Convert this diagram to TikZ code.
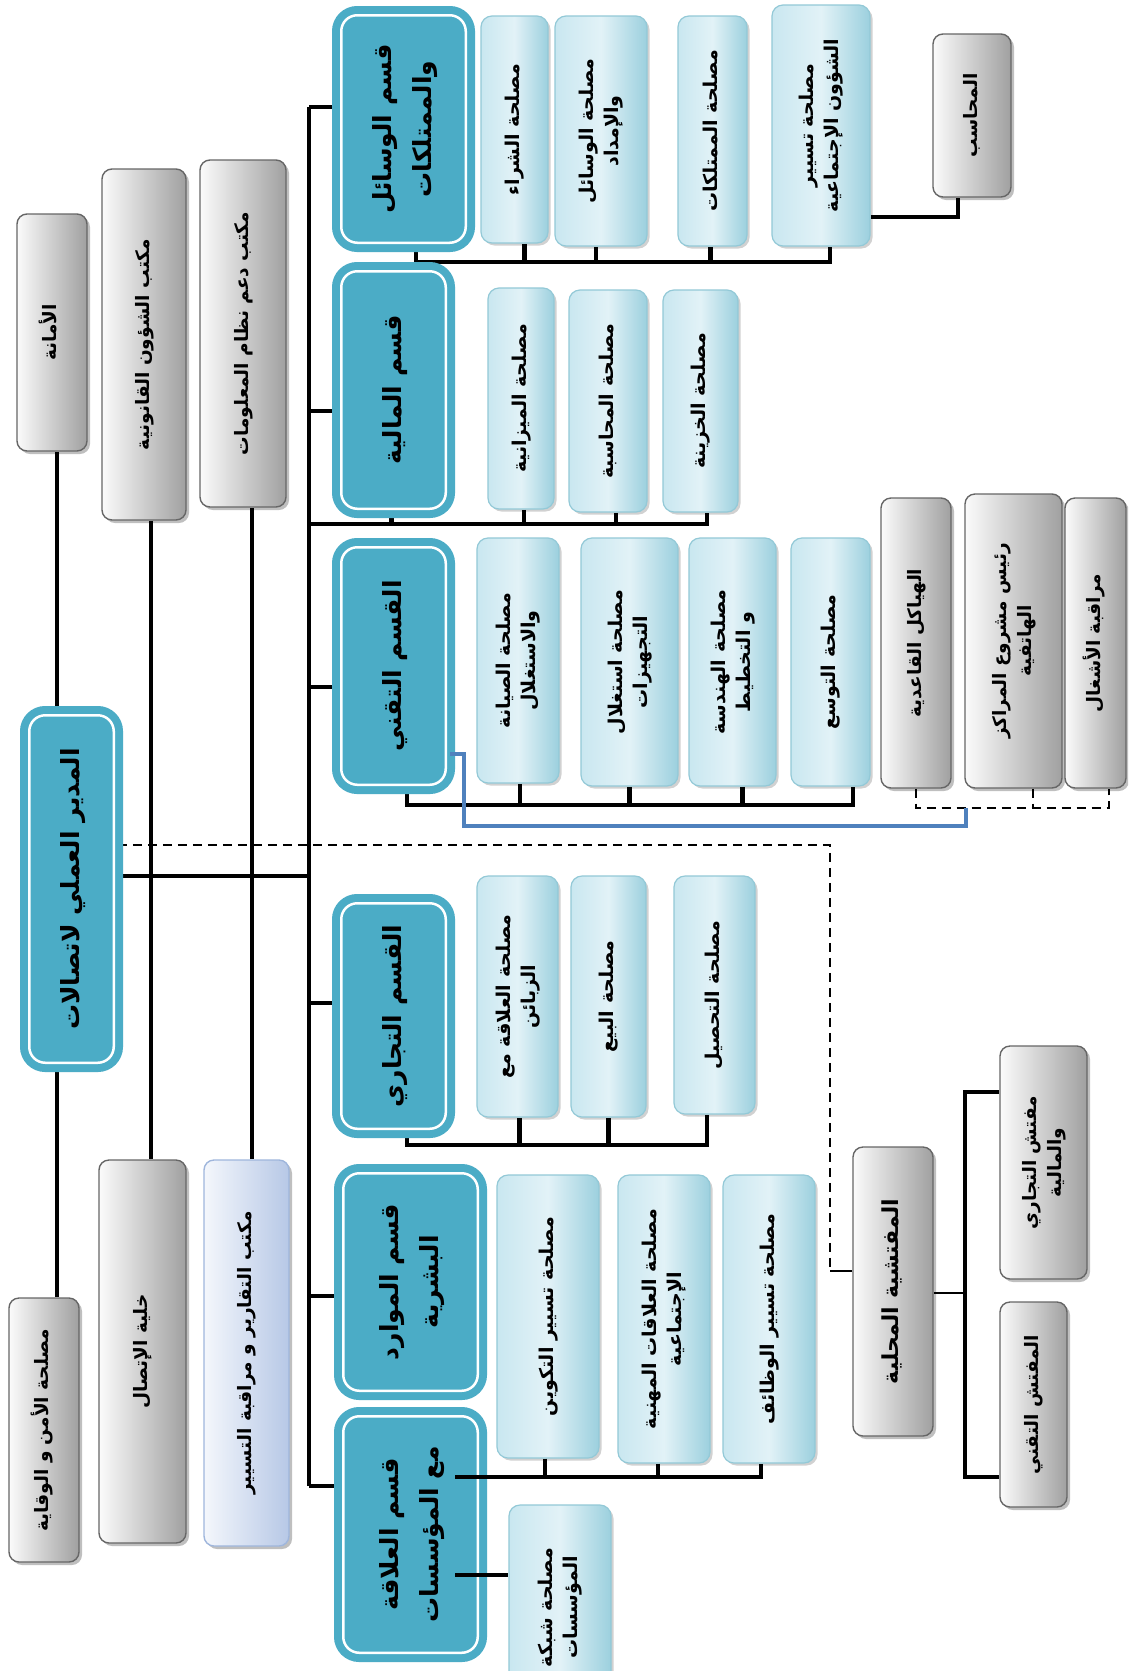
\documentclass[tikz,border=0pt]{standalone}
\usepackage{fontspec}
\usepackage{graphicx}
\usetikzlibrary{shadows,backgrounds}
\TeXXeTstate=1
\newfontfamily\arabicfont[Script=Arabic]{DejaVu Sans}

\definecolor{deptteal}{HTML}{4BACC6}
\definecolor{lbL}{HTML}{C9E7F0}
\definecolor{lbM}{HTML}{E2F2F7}
\definecolor{lbR}{HTML}{9CD0DE}
\definecolor{lbB}{HTML}{93C9D7}
\definecolor{grL}{HTML}{FBFBFB}
\definecolor{grR}{HTML}{A0A0A0}
\definecolor{grB}{HTML}{666666}
\definecolor{lvL}{HTML}{F4F7FC}
\definecolor{lvR}{HTML}{B7C8E6}
\definecolor{lvB}{HTML}{9FB6DC}
\definecolor{linkblue}{HTML}{4F81BD}

% one right-to-left line
\newcommand{\arl}[1]{\beginR #1\endR}
% text block turned a quarter turn
\newcommand{\vtext}[1]{\rotatebox{90}{\begin{tabular}{@{}c@{}}#1\end{tabular}}}
% name, style, inset, x1, y1, x2, y2, text
\newcommand{\placebox}[8]{%
  \pgfmathsetmacro{\pbcx}{(#4+#6)/2}%
  \pgfmathsetmacro{\pbcy}{(#5+#7)/2}%
  \pgfmathsetmacro{\pbw}{#6-#4-2*#3}%
  \pgfmathsetmacro{\pbh}{#7-#5-2*#3}%
  \node[#2, minimum width=\pbw pt, minimum height=\pbh pt] (#1) at (\pbcx,\pbcy) {\vtext{#8}};}

\tikzset{
  deptbox/.style={fill=deptteal, draw=deptteal, double=white, line width=8pt,
    double distance=2.5pt, rounded corners=16pt, inner sep=0pt,
    font=\arabicfont\bfseries\fontsize{25}{40}\selectfont},
  headbox/.style={deptbox, font=\arabicfont\bfseries\fontsize{25}{40}\selectfont},
  subbox/.style={draw=lbB, line width=1.2pt, rounded corners=11pt, inner sep=0pt,
    left color=lbL, right color=lbR, middle color=lbM,
    drop shadow={shadow xshift=2.5pt, shadow yshift=-2.5pt, fill=black, opacity=0.18},
    font=\arabicfont\bfseries\fontsize{19}{25}\selectfont},
  greybox/.style={draw=grB, line width=1.4pt, rounded corners=10pt, inner sep=0pt,
    left color=grL, right color=grR,
    drop shadow={shadow xshift=3pt, shadow yshift=-3pt, fill=black, opacity=0.25},
    font=\arabicfont\bfseries\fontsize{18.5}{25}\selectfont},
  lavbox/.style={greybox, draw=lvB, left color=lvL, right color=lvR},
  conn/.style={line width=4.5pt, draw=black},
  thinconn/.style={line width=1.5pt, draw=black},
  dashline/.style={line width=2.3pt, draw=black, dashed, dash pattern=on 9pt off 6pt},
  blueline/.style={line width=4pt, draw=linkblue},
}

\begin{document}
\begin{tikzpicture}[x=1pt, y=-1pt]
\useasboundingbox (0,0) rectangle (1128,1671);
\clip (0,0) rectangle (1128,1671);

% ---------- head and staff offices
\placebox{main}{headbox}{9.25}{20}{706}{123}{1072}{\arl{المدير العملي لاتصالات}}
\placebox{l1}{greybox}{0}{17}{214}{87}{451}{\arl{الأمانة}}
\placebox{l2}{greybox}{0}{9}{1298}{79}{1562}{\arl{مصلحة الأمن و الوقاية}}
\placebox{l3}{greybox}{0}{102}{169}{186}{520}{\arl{مكتب الشؤون القانونية}}
\placebox{l4}{greybox}{0}{99}{1160}{186}{1543}{\arl{خلية الإتصال}}
\placebox{l5}{greybox}{0}{200}{160}{286}{507}{\arl{مكتب دعم نظام المعلومات}}
\placebox{l6}{lavbox}{0}{204}{1160}{289}{1546}{\arl{مكتب التقارير و مراقبة التسيير}}

% ---------- departments
\placebox{dA}{deptbox}{9.25}{332}{6}{475}{252}{\arl{قسم الوسائل}\\\arl{والممتلكات}}
\placebox{dB}{deptbox}{9.25}{332}{262}{455}{518}{\arl{قسم المالية}}
\placebox{dC}{deptbox}{9.25}{332}{538}{455}{794}{\arl{القسم التقني}}
\placebox{dD}{deptbox}{9.25}{332}{894}{455}{1138}{\arl{القسم التجاري}}
\placebox{dE}{deptbox}{9.25}{334}{1164}{487}{1400}{\arl{قسم الموارد}\\\arl{البشرية}}
\placebox{dF}{deptbox}{9.25}{334}{1407}{487}{1662}{\arl{قسم العلاقة}\\\arl{مع المؤسسات}}

% ---------- services of the means and property department
\placebox{a1}{subbox}{0}{481}{16}{548}{243}{\arl{مصلحة الشراء}}
\placebox{a2}{subbox}{0}{555}{16}{647}{246}{\arl{مصلحة الوسائل}\\\arl{والإمداد}}
\placebox{a3}{subbox}{0}{678}{16}{747}{246}{\arl{مصلحة الممتلكات}}
\placebox{a4}{subbox}{0}{772}{5}{870}{246}{\arl{مصلحة تسيير}\\\arl{الشؤون الإجتماعية}}
\placebox{acc}{greybox}{0}{933}{34}{1011}{197}{\arl{المحاسب}}

% ---------- finance
\placebox{b1}{subbox}{0}{488}{288}{554}{509}{\arl{مصلحة الميزانية}}
\placebox{b2}{subbox}{0}{569}{290}{647}{512}{\arl{مصلحة المحاسبة}}
\placebox{b3}{subbox}{0}{663}{290}{738}{512}{\arl{مصلحة الخزينة}}

% ---------- technical
\placebox{c1}{subbox}{0}{477}{538}{559}{783}{\arl{مصلحة الصيانة}\\\arl{والاستغلال}}
\placebox{c2}{subbox}{0}{581}{538}{678}{786}{\arl{مصلحة استغلال}\\\arl{التجهيزات}}
\placebox{c3}{subbox}{0}{689}{538}{776}{786}{\arl{مصلحة الهندسة}\\\arl{و التخطيط}}
\placebox{c4}{subbox}{0}{791}{538}{870}{786}{\arl{مصلحة التوسع}}
\placebox{g1}{greybox}{0}{881}{498}{951}{788}{\arl{الهياكل القاعدية}}
\placebox{g2}{greybox}{0}{965}{494}{1062}{788}{\arl{رئيس مشروع المراكز}\\\arl{الهاتفية}}
\placebox{g3}{greybox}{0}{1065}{498}{1126}{788}{\arl{مراقبة الأشغال}}

% ---------- commercial
\placebox{e1}{subbox}{0}{477}{876}{558}{1117}{\arl{مصلحة العلاقة مع}\\\arl{الزبائن}}
\placebox{e2}{subbox}{0}{571}{876}{646}{1117}{\arl{مصلحة البيع}}
\placebox{e3}{subbox}{0}{674}{876}{755}{1114}{\arl{مصلحة التحصيل}}

% ---------- human resources
\placebox{f1}{subbox}{0}{497}{1175}{599}{1458}{\arl{مصلحة تسيير التكوين}}
\placebox{f2}{subbox}{0}{618}{1175}{710}{1463}{\arl{مصلحة العلاقات المهنية}\\\arl{الإجتماعية}}
\placebox{f3}{subbox}{0}{723}{1175}{815}{1463}{\arl{مصلحة تسيير الوظائف}}

% ---------- institutions
\placebox{h1}{subbox}{0}{509}{1505}{611}{1710}{\arl{مصلحة شبكة}\\\arl{المؤسسات}}

% ---------- local inspection
\placebox{i0}{greybox, font=\arabicfont\bfseries\fontsize{22}{28}\selectfont}{0}{853}{1147}{933}{1436}{\arl{المفتشية المحلية}}
\placebox{i1}{greybox}{0}{1000}{1046}{1087}{1279}{\arl{مفتش التجاري}\\\arl{والمالية}}
\placebox{i2}{greybox}{0}{1000}{1302}{1067}{1507}{\arl{المفتش التقني}}

% ---------- connectors
\coordinate (x1) at (57,0);
\coordinate (x2) at (151,0);
\coordinate (x3) at (252,0);
\coordinate (busT) at (309,107);
\coordinate (busB) at (309,1486);
\coordinate (bB) at (309,411);
\coordinate (bC) at (309,687);
\coordinate (bD) at (309,1003);
\coordinate (bE) at (309,1296);
\coordinate (bM) at (309,876);
\coordinate (g1L) at (416,262);
\coordinate (g1R) at (830,262);
\coordinate (accL) at (958,217);
\coordinate (g2L) at (309,524);
\coordinate (g2R) at (707,524);
\coordinate (g3L) at (407,805);
\coordinate (g3R) at (853,805);
\coordinate (g4L) at (407,1145);
\coordinate (g4R) at (707,1145);
\coordinate (g5L) at (455,1477);
\coordinate (g5R) at (761,1477);
\coordinate (hL) at (455,1575);
\coordinate (dsh) at (830,845);
\coordinate (iL) at (830,1271);
\coordinate (iJ) at (965,1293);
\coordinate (iT) at (965,1092);
\coordinate (iB) at (965,1477);
\coordinate (gbL) at (916,808);
\coordinate (gbR) at (1109,808);
\coordinate (bl1) at (464,754);
\coordinate (bl2) at (966,826);

\begin{pgfonlayer}{background}
  \fill[white] (0,0) rectangle (1128,1671);
  \draw[conn] (l1.south -| x1) -- (main.north -| x1);
  \draw[conn] (main.south -| x1) -- (l2.north -| x1);
  \draw[conn] (l3.south -| x2) -- (l4.north -| x2);
  \draw[conn] (l5.south -| x3) -- (l6.north -| x3);
  \draw[conn] (main.east |- bM) -- (bM);
  \draw[dashline] (main.east |- dsh) -- (dsh) -- (iL);
  \draw[conn] (busT) -- (busB);
  \draw[conn] (busT) -- (busT -| dA.west);
  \draw[conn] (bB) -- (bB -| dB.west);
  \draw[conn] (bC) -- (bC -| dC.west);
  \draw[conn] (bD) -- (bD -| dD.west);
  \draw[conn] (bE) -- (bE -| dE.west);
  \draw[conn] (busB) -- (busB -| dF.west);
  % means and property
  \draw[conn] (dA.south -| g1L) -- (g1L) -- (g1R) -- (a4.south -| g1R);
  \draw[conn] ([xshift=10pt]a1.south) -- ([xshift=10pt]a1.south |- g1L);
  \draw[conn] ([xshift=-5pt]a2.south) -- ([xshift=-5pt]a2.south |- g1L);
  \draw[conn] ([xshift=-2pt]a3.south) -- ([xshift=-2pt]a3.south |- g1L);
  \draw[conn] (a4.east |- accL) -- (accL) -- (accL |- acc.south);
  % finance
  \draw[conn] (g2L) -- (g2R) -- (b3.south -| g2R);
  \draw[conn] ([xshift=-2pt]dB.south) -- ([xshift=-2pt]dB.south |- g2L);
  \draw[conn] ([xshift=3pt]b1.south) -- ([xshift=3pt]b1.south |- g2L);
  \draw[conn] ([xshift=8pt]b2.south) -- ([xshift=8pt]b2.south |- g2L);
  % technical
  \draw[conn] (dC.south -| g3L) -- (g3L) -- (g3R) -- (c4.south -| g3R);
  \draw[conn] ([xshift=2pt]c1.south) -- ([xshift=2pt]c1.south |- g3L);
  \draw[conn] (c2.south) -- (c2.south |- g3L);
  \draw[conn] ([xshift=10pt]c3.south) -- ([xshift=10pt]c3.south |- g3L);
  \draw[dashline] (g1.south -| gbL) -- (gbL) -- (gbR) -- (g3.south -| gbR);
  \draw[dashline] ([xshift=19.5pt]g2.south) -- ([xshift=19.5pt]g2.south |- gbL);
  % commercial
  \draw[conn] (dD.south -| g4L) -- (g4L) -- (g4R) -- (e3.south -| g4R);
  \draw[conn] ([xshift=2pt]e1.south) -- ([xshift=2pt]e1.south |- g4L);
  \draw[conn] (e2.south) -- (e2.south |- g4L);
  % inspection
  \draw[thinconn] (iL) -- (iL -| i0.west);
  \draw[thinconn] (i0.east |- iJ) -- (iJ);
  \draw[conn] (iT -| i1.west) -- (iT) -- (iB) -- (iB -| i2.west);
\end{pgfonlayer}

% links that run over the department boxes
\draw[blueline] (dC.east |- bl1) -- (bl1) |- (bl2) -- (bl2 |- gbL);
\draw[conn] (g5L) -- (g5R) -- (f3.south -| g5R);
\draw[conn] ([xshift=-3pt]f1.south) -- ([xshift=-3pt]f1.south |- g5L);
\draw[conn] ([xshift=-6pt]f2.south) -- ([xshift=-6pt]f2.south |- g5L);
\draw[conn] (hL) -- (hL -| h1.west);
\end{tikzpicture}
\end{document}
